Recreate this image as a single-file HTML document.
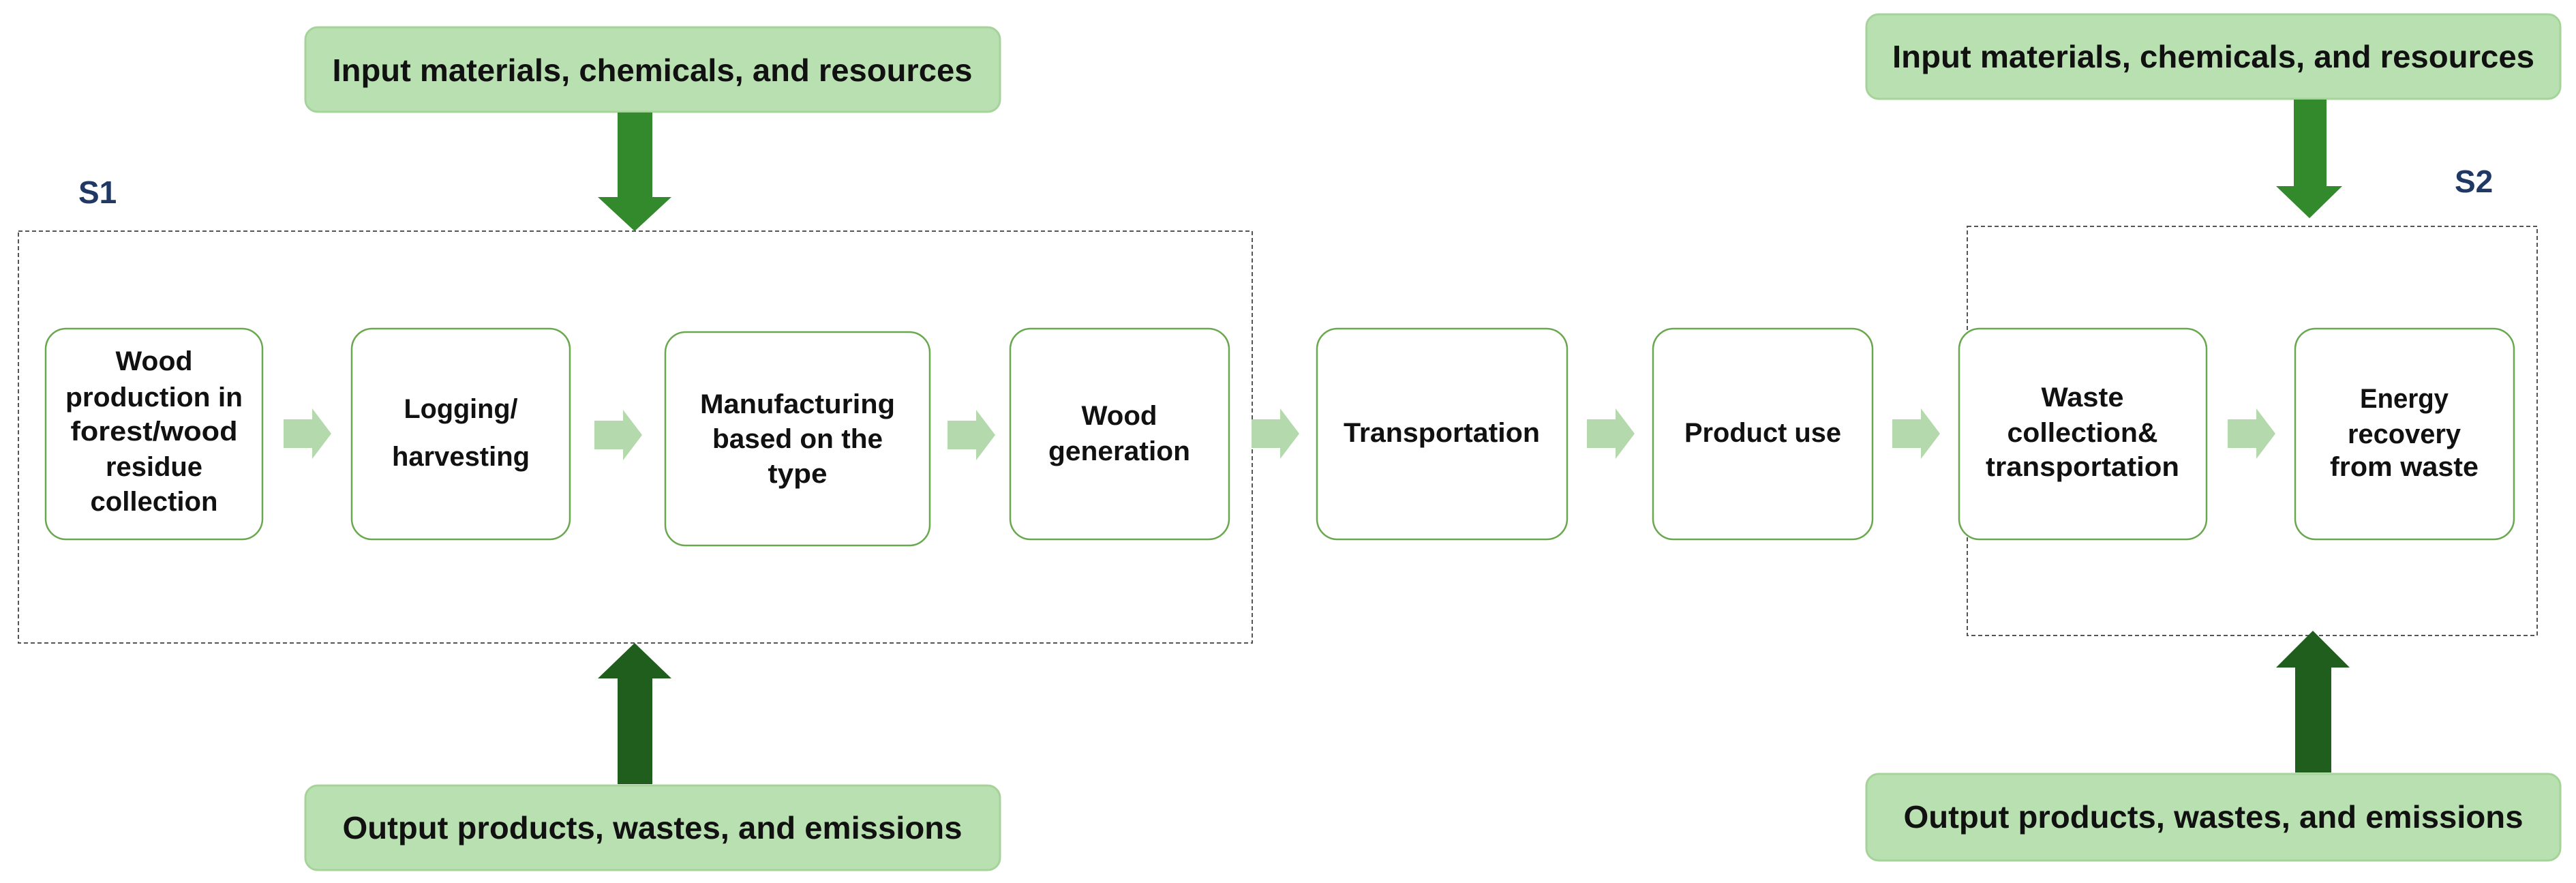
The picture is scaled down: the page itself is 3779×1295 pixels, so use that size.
<!DOCTYPE html>
<html><head><meta charset="utf-8"><style>
html,body{margin:0;padding:0;background:#fff;}
svg{display:block;}
text{font-family:"Liberation Sans",sans-serif;font-weight:bold;fill:#111;}
</style></head><body>
<svg width="3779" height="1295" viewBox="0 0 3779 1295" xmlns="http://www.w3.org/2000/svg">
<defs>
<g id="sa"><polygon points="0,16 42,16 42,0 70,37 42,74 42,58 0,58" fill="#b4d9ad"/></g>
</defs>
<!-- dashed boxes -->
<rect x="27" y="339" width="1810" height="604" fill="none" stroke="#555" stroke-width="2" stroke-dasharray="6,4"/>
<rect x="2886" y="332" width="836" height="600" fill="none" stroke="#555" stroke-width="2" stroke-dasharray="6,4"/>
<!-- S labels -->
<text x="115" y="298" font-size="46" style="fill:#1f3864">S1</text>
<text x="3601" y="282" font-size="46" style="fill:#1f3864">S2</text>
<!-- top/bottom boxes -->
<rect x="448" y="40" width="1019" height="124" rx="18" fill="#b9e0b0" stroke="#a6d39a" stroke-width="3"/>
<text x="957" y="119" font-size="46" text-anchor="middle" textLength="939" lengthAdjust="spacingAndGlyphs">Input materials, chemicals, and resources</text>
<rect x="448" y="1152" width="1019" height="124" rx="18" fill="#b9e0b0" stroke="#a6d39a" stroke-width="3"/>
<text x="957" y="1230" font-size="46" text-anchor="middle" textLength="909" lengthAdjust="spacingAndGlyphs">Output products, wastes, and emissions</text>
<rect x="2738" y="21" width="1018" height="124" rx="18" fill="#b9e0b0" stroke="#a6d39a" stroke-width="3"/>
<text x="3247" y="99" font-size="46" text-anchor="middle" textLength="942" lengthAdjust="spacingAndGlyphs">Input materials, chemicals, and resources</text>
<rect x="2738" y="1135" width="1018" height="127" rx="18" fill="#b9e0b0" stroke="#a6d39a" stroke-width="3"/>
<text x="3247" y="1214" font-size="46" text-anchor="middle" textLength="909" lengthAdjust="spacingAndGlyphs">Output products, wastes, and emissions</text>
<!-- big arrows -->
<polygon points="906,165 957,165 957,289 985,289 931,339 877,289 906,289" fill="#328a2c"/>
<polygon points="906,1150 957,1150 957,995 985,995 931,943 877,995 906,995" fill="#1f5e1c"/>
<polygon points="3365,146 3413,146 3413,273 3436,273 3388,320 3339,273 3365,273" fill="#328a2c"/>
<polygon points="3367,1133 3420,1133 3420,979 3447,979 3393,925 3339,979 3367,979" fill="#1f5e1c"/>
<!-- process boxes -->
<g fill="#fff" stroke="#6aa84f" stroke-width="2.5">
<rect x="67" y="482" width="318" height="309" rx="30"/>
<rect x="516" y="482" width="320" height="309" rx="30"/>
<rect x="976" y="487" width="388" height="313" rx="30"/>
<rect x="1482" y="482" width="321" height="309" rx="30"/>
<rect x="1932" y="482" width="367" height="309" rx="30"/>
<rect x="2425" y="482" width="322" height="309" rx="30"/>
<rect x="2874" y="482" width="363" height="309" rx="30"/>
<rect x="3367" y="482" width="321" height="309" rx="30"/>
</g>
<!-- small arrows -->
<use href="#sa" x="416" y="599"/>
<use href="#sa" x="872" y="601"/>
<use href="#sa" x="1390" y="601"/>
<use href="#sa" x="1836" y="599"/>
<use href="#sa" x="2328" y="599"/>
<use href="#sa" x="2776" y="599"/>
<use href="#sa" x="3268" y="599"/>
<!-- box texts -->
<g font-size="40" text-anchor="middle">
<text x="226" y="543" textLength="113" lengthAdjust="spacingAndGlyphs">Wood</text>
<text x="226" y="596" textLength="260" lengthAdjust="spacingAndGlyphs">production in</text>
<text x="226" y="646" textLength="245" lengthAdjust="spacingAndGlyphs">forest/wood</text>
<text x="226" y="698" textLength="142" lengthAdjust="spacingAndGlyphs">residue</text>
<text x="226" y="749" textLength="187" lengthAdjust="spacingAndGlyphs">collection</text>
<text x="676" y="613" textLength="167" lengthAdjust="spacingAndGlyphs">Logging/</text>
<text x="676" y="683" textLength="202" lengthAdjust="spacingAndGlyphs">harvesting</text>
<text x="1170" y="606" textLength="286" lengthAdjust="spacingAndGlyphs">Manufacturing</text>
<text x="1170" y="657" textLength="250" lengthAdjust="spacingAndGlyphs">based on the</text>
<text x="1170" y="708" textLength="87" lengthAdjust="spacingAndGlyphs">type</text>
<text x="1642" y="623" textLength="111" lengthAdjust="spacingAndGlyphs">Wood</text>
<text x="1642" y="675" textLength="208" lengthAdjust="spacingAndGlyphs">generation</text>
<text x="2115" y="648" textLength="288" lengthAdjust="spacingAndGlyphs">Transportation</text>
<text x="2586" y="648" textLength="230" lengthAdjust="spacingAndGlyphs">Product use</text>
<text x="3055" y="596" textLength="121" lengthAdjust="spacingAndGlyphs">Waste</text>
<text x="3055" y="648" textLength="221" lengthAdjust="spacingAndGlyphs">collection&amp;</text>
<text x="3055" y="698" textLength="284" lengthAdjust="spacingAndGlyphs">transportation</text>
<text x="3527" y="598" textLength="130" lengthAdjust="spacingAndGlyphs">Energy</text>
<text x="3527" y="650" textLength="166" lengthAdjust="spacingAndGlyphs">recovery</text>
<text x="3527" y="698" textLength="218" lengthAdjust="spacingAndGlyphs">from waste</text>
</g>
</svg>
</body></html>
